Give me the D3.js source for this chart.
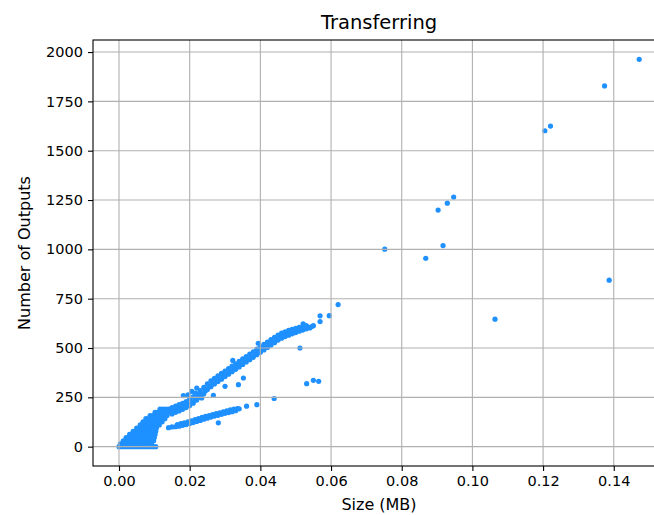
<!DOCTYPE html>
<html>
<head>
<meta charset="utf-8">
<script src="https://cdn.jsdelivr.net/npm/d3@7"></script>
<style>
  body { margin: 0; background: #fff; }
  text { font-family: "DejaVu Sans", sans-serif; fill: #000; }
</style>
</head>
<body>
<div id="chart"></div>
<script>
// tick labels
const xTicks = [0, 0.02, 0.04, 0.06, 0.08, 0.10, 0.12, 0.14];
const yTicks = [0, 250, 500, 750, 1000, 1250, 1500, 1750, 2000];

// dense mass near the origin (size MB, number of outputs)
const baseSize = [
  0, 0.0008, 0.0016, 0.0024, 0.0032, 0.004, 0.0048, 0.0056, 0.0064, 0.0072, 0.008, 0.0088, 0.0096, 0.0104,
  0.0004, 0.0012, 0.002, 0.0028, 0.0036, 0.0044, 0.0052, 0.006, 0.0068, 0.0076, 0.0084, 0.0092,
  0.0012, 0.002, 0.0028, 0.0036, 0.0044, 0.0052, 0.006, 0.0068, 0.0076, 0.0084, 0.0092, 0.0098,
  0.002, 0.0028, 0.0036, 0.0044, 0.0052, 0.006, 0.0068, 0.0076, 0.0084, 0.0092, 0.01,
  0.003, 0.0038, 0.0046, 0.0054, 0.0062, 0.007, 0.0078, 0.0086, 0.0094, 0.0102,
  0.004, 0.0048, 0.0056, 0.0064, 0.0072, 0.008, 0.0088, 0.0096, 0.0104,
  0.005, 0.0058, 0.0066, 0.0074, 0.0082, 0.009, 0.0098, 0.0106,
  0.006, 0.0068, 0.0076, 0.0084, 0.0092, 0.01, 0.0108, 0.0114,
  0.0068, 0.0076, 0.0084, 0.0092, 0.01, 0.0108, 0.0116, 0.0122,
  0.0076, 0.0084, 0.0092, 0.01, 0.0108, 0.0116, 0.0124, 0.013,
  0.0088, 0.0096, 0.0104, 0.0112, 0.012, 0.0128, 0.0136,
  0.0102, 0.011, 0.0118, 0.0126, 0.0134, 0.0142,
  0.0116, 0.0124, 0.0132, 0.014, 0.0148
];
const baseOutputs = [
  0, 0, 0, 0, 0, 0, 0, 0, 0, 0, 0, 0, 0, 0,
  14, 14, 14, 14, 14, 14, 14, 14, 14, 14, 14, 14,
  30, 30, 30, 30, 30, 30, 30, 30, 30, 30, 30, 30,
  46, 46, 46, 46, 46, 46, 46, 46, 46, 46, 46,
  62, 62, 62, 62, 62, 62, 62, 62, 62, 62,
  78, 78, 78, 78, 78, 78, 78, 78, 78,
  94, 94, 94, 94, 94, 94, 94, 94,
  110, 110, 110, 110, 110, 110, 110, 110,
  126, 126, 126, 126, 126, 126, 126, 126,
  142, 142, 142, 142, 142, 142, 142, 142,
  158, 158, 158, 158, 158, 158, 158,
  174, 174, 174, 174, 174, 174,
  190, 190, 190, 190, 190
];

// upper (steep) band
const upperSize = [
  0.015, 0.0155, 0.015, 0.016, 0.0165, 0.016, 0.017, 0.0175, 0.017, 0.018, 0.0185, 0.018,
  0.019, 0.0195, 0.019, 0.020, 0.0205, 0.020, 0.021, 0.0215, 0.021, 0.022, 0.0225, 0.022,
  0.023, 0.0235, 0.023, 0.024, 0.0245, 0.024, 0.025, 0.0255, 0.025, 0.026, 0.0265, 0.026,
  0.027, 0.0275, 0.027, 0.028, 0.0285, 0.028, 0.029, 0.0295, 0.029, 0.030, 0.0305, 0.030,
  0.031, 0.0315, 0.031, 0.032, 0.0325, 0.032, 0.033, 0.0335, 0.033, 0.034, 0.0345, 0.034,
  0.035, 0.0355, 0.035, 0.036, 0.0365, 0.036, 0.037, 0.0375, 0.037, 0.038, 0.0385, 0.038,
  0.039, 0.0395, 0.039, 0.040, 0.0405, 0.040, 0.041, 0.0415, 0.041, 0.042, 0.0425, 0.042,
  0.043, 0.0435, 0.043, 0.044, 0.0445, 0.044, 0.045, 0.0455, 0.045, 0.046, 0.0465, 0.046,
  0.047, 0.0475, 0.047, 0.048, 0.0485, 0.048, 0.049, 0.0495, 0.049, 0.050, 0.0505, 0.050,
  0.051, 0.0515, 0.051, 0.052, 0.0525, 0.052, 0.053, 0.0535, 0.053, 0.054, 0.0545, 0.055
];
const upperOutputs = [
  166, 182, 198, 174, 190, 205, 181, 197, 213, 189, 205, 220,
  198, 214, 229, 208, 224, 240, 220, 237, 252, 236, 252, 268,
  252, 268, 284, 268, 284, 300, 290, 304, 318, 304, 318, 333,
  318, 332, 346, 330, 344, 359, 342, 357, 371, 355, 369, 383,
  367, 381, 395, 380, 394, 408, 392, 406, 420, 404, 418, 432,
  417, 431, 445, 429, 443, 457, 441, 455, 469, 453, 467, 481,
  466, 480, 494, 478, 492, 506, 490, 504, 518, 503, 517, 530,
  515, 529, 542, 527, 541, 554, 540, 553, 566, 550, 563, 575,
  558, 570, 582, 565, 577, 589, 572, 583, 595, 578, 589, 600,
  585, 595, 605, 591, 600, 609, 597, 605, 613, 602, 609, 613
];

// lower (flat) band
const lowerSize = [
  0.014, 0.015, 0.016, 0.0165, 0.017, 0.0175, 0.018, 0.0185, 0.019, 0.0195,
  0.020, 0.0205, 0.021, 0.0215, 0.022, 0.0225, 0.023, 0.0235, 0.024, 0.0245,
  0.025, 0.0255, 0.026, 0.0265, 0.027, 0.0275, 0.028, 0.0285, 0.029, 0.0295,
  0.030, 0.0305, 0.031, 0.0315, 0.032, 0.0325, 0.033, 0.0335, 0.034
];
const lowerOutputs = [
  96, 100, 101, 112, 104, 117, 108, 121, 112, 126,
  117, 131, 122, 137, 128, 142, 133, 148, 139, 153,
  144, 158, 150, 163, 155, 168, 159, 172, 164, 177,
  169, 182, 173, 186, 177, 190, 182, 193, 192
];

// scattered points away from the bands
const outlierSize = [
  0.1472, 0.1374, 0.1205, 0.1221, 0.0947, 0.0929, 0.0903, 0.0917, 0.0752, 0.0868, 0.1387, 0.1064,
  0.062, 0.0595, 0.0569, 0.0569, 0.0521, 0.0512, 0.0531, 0.055, 0.0565, 0.0439, 0.039, 0.0361,
  0.0281, 0.0394, 0.0322, 0.030, 0.0338, 0.0352, 0.0267, 0.0234, 0.0182, 0.0206, 0.022, 0.0215,
  0.0229, 0.0195, 0.0465, 0.0485
];
const outlierOutputs = [
  1963, 1828, 1601, 1625, 1265, 1234, 1199, 1019, 1001, 955, 844, 646,
  720, 664, 663, 634, 622, 500, 319, 336, 331, 244, 213, 205,
  121, 524, 437, 306, 314, 348, 260, 247, 259, 280, 297, 272,
  272, 262, 567, 590
];

const width = 654;
const height = 515;
const margin = { top: 40, right: -11, bottom: 49, left: 93 };

const svg = d3.select('#chart')
  .append('svg')
  .attr('width', width)
  .attr('height', height);

const x = d3.scaleLinear()
  .domain([-0.00736, 0.1545])
  .range([margin.left, width - margin.right]);

const y = d3.scaleLinear()
  .domain([-98, 2061])
  .range([height - margin.bottom, margin.top]);

const points = [];
const addGroup = (sizes, outputs) => sizes.forEach((s, i) => points.push({ size: s, outputs: outputs[i] }));
addGroup(baseSize, baseOutputs);
addGroup(upperSize, upperOutputs);
addGroup(lowerSize, lowerOutputs);
addGroup(outlierSize, outlierOutputs);

// points
svg.append('g')
  .attr('fill', '#1e90ff')
  .selectAll('circle')
  .data(points)
  .join('circle')
    .attr('cx', d => x(d.size))
    .attr('cy', d => y(d.outputs))
    .attr('r', 2.6);

// grid (matplotlib draws it over the scatter)
const grid = svg.append('g')
  .attr('stroke', '#b0b0b0')
  .attr('stroke-width', 1.1);
grid.selectAll('.vx')
  .data(xTicks)
  .join('line')
    .attr('x1', d => x(d)).attr('x2', d => x(d))
    .attr('y1', margin.top).attr('y2', height - margin.bottom);
grid.selectAll('.hy')
  .data(yTicks)
  .join('line')
    .attr('x1', margin.left).attr('x2', width - margin.right)
    .attr('y1', d => y(d)).attr('y2', d => y(d));

// frame
svg.append('rect')
  .attr('x', margin.left)
  .attr('y', margin.top)
  .attr('width', width - margin.right - margin.left)
  .attr('height', height - margin.bottom - margin.top)
  .attr('fill', 'none')
  .attr('stroke', '#000')
  .attr('stroke-width', 1.1);

//X-AXIS
const xAxis = svg.append('g')
  .attr('transform', `translate(0,${height - margin.bottom})`)
  .call(d3.axisBottom(x).tickValues(xTicks).tickFormat(d3.format('.2f')).tickSize(5).tickPadding(5))
  .attr('font-size', '14.5px')
  .attr('font-family', 'DejaVu Sans');
xAxis.select('.domain').remove();

//Y-AXIS
const yAxis = svg.append('g')
  .attr('transform', `translate(${margin.left},0)`)
  .call(d3.axisLeft(y).tickValues(yTicks).tickFormat(d3.format('d')).tickSize(5).tickPadding(5))
  .attr('font-size', '14.5px')
  .attr('font-family', 'DejaVu Sans');
yAxis.select('.domain').remove();

svg.selectAll('.tick line').attr('stroke', '#000').attr('stroke-width', 1.1);
svg.selectAll('.tick text').attr('fill', '#000');

// labels
svg.append('text')
  .attr('x', (margin.left + width - margin.right) / 2)
  .attr('y', 29)
  .attr('text-anchor', 'middle')
  .attr('font-size', '19.5px')
  .text('Transferring');

svg.append('text')
  .attr('x', (margin.left + width - margin.right) / 2)
  .attr('y', 510)
  .attr('text-anchor', 'middle')
  .attr('font-size', '16px')
  .text('Size (MB)');

svg.append('text')
  .attr('transform', `translate(30,${(margin.top + height - margin.bottom) / 2}) rotate(-90)`)
  .attr('text-anchor', 'middle')
  .attr('font-size', '16px')
  .text('Number of Outputs');
</script>
</body>
</html>
